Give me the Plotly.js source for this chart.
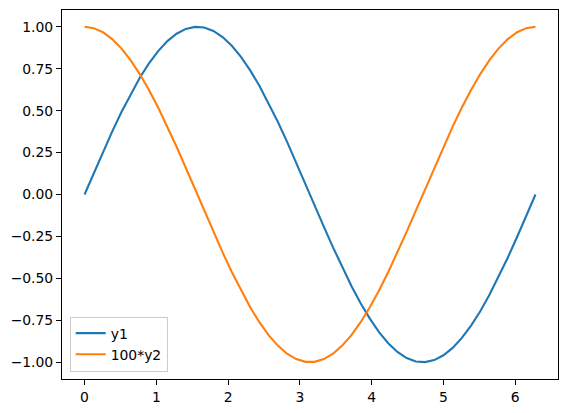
<!DOCTYPE html>
<html>
<head>
<meta charset="utf-8">
<script src="https://cdn.plot.ly/plotly-3.0.1.min.js"></script>
<style>html,body{margin:0;padding:0;background:#fff;}#chart{width:568px;height:413px;}</style>
</head>
<body>
<div id="chart"></div>
<script>
const xValues = [0, 0.1282, 0.2565, 0.3847, 0.5129, 0.6411, 0.7694, 0.8976, 1.0258, 1.1541,
  1.2823, 1.4105, 1.5387, 1.6670, 1.7952, 1.9234, 2.0517, 2.1799, 2.3081, 2.4363,
  2.5646, 2.6928, 2.8210, 2.9493, 3.0775, 3.2057, 3.3340, 3.4622, 3.5904, 3.7186,
  3.8469, 3.9751, 4.1033, 4.2315, 4.3598, 4.4880, 4.6162, 4.7445, 4.8727, 5.0009,
  5.1291, 5.2574, 5.3856, 5.5138, 5.6421, 5.7703, 5.8985, 6.0268, 6.1550, 6.2832];
const y1Values = [0, 0.1279, 0.2537, 0.3752, 0.4907, 0.5981, 0.6959, 0.7818, 0.8551, 0.9144,
  0.9587, 0.9872, 0.9995, 0.9954, 0.9749, 0.9385, 0.8866, 0.8203, 0.7402, 0.6482,
  0.5455, 0.4339, 0.3151, 0.1912, 0.0641, -0.0641, -0.1912, -0.3151, -0.4339, -0.5455,
  -0.6482, -0.7402, -0.8203, -0.8866, -0.9385, -0.9749, -0.9954, -0.9995, -0.9872, -0.9587,
  -0.9144, -0.8551, -0.7818, -0.6959, -0.5981, -0.4907, -0.3752, -0.2537, -0.1279, 0];
const y2Values = [1, 0.9918, 0.9673, 0.9269, 0.8713, 0.8014, 0.7181, 0.6235, 0.5184, 0.4048,
  0.2845, 0.1596, 0.0321, -0.0960, -0.2225, -0.3454, -0.4625, -0.5721, -0.6723, -0.7614,
  -0.8381, -0.9010, -0.9491, -0.9815, -0.9979, -0.9979, -0.9815, -0.9491, -0.9010, -0.8381,
  -0.7614, -0.6723, -0.5721, -0.4625, -0.3454, -0.2225, -0.0960, 0.0321, 0.1596, 0.2845,
  0.4048, 0.5184, 0.6235, 0.7181, 0.8014, 0.8713, 0.9269, 0.9673, 0.9918, 1];
const seriesNames = ["y1", "100*y2"];
const xTicks = [0, 1, 2, 3, 4, 5, 6];
const yTicks = [-1.00, -0.75, -0.50, -0.25, 0.00, 0.25, 0.50, 0.75, 1.00];

const font = {family: "DejaVu Sans, sans-serif", size: 13.9, color: "#000"};
const traces = [
  {x: xValues, y: y1Values, name: seriesNames[0], type: "scatter", mode: "lines",
   line: {color: "#1f77b4", width: 2.1}},
  {x: xValues, y: y2Values, name: seriesNames[1], type: "scatter", mode: "lines",
   line: {color: "#ff7f0e", width: 2.1}}
];
const axisCommon = {
  showgrid: false, zeroline: false, showline: true, mirror: true,
  linecolor: "#000", linewidth: 1, ticks: "outside", ticklen: 5, tickwidth: 1,
  tickcolor: "#000", tickfont: font
};
const layout = {
  width: 568, height: 413,
  margin: {l: 62, r: 10, t: 10, b: 34, pad: 0},
  paper_bgcolor: "#fff", plot_bgcolor: "#fff",
  font: font,
  xaxis: Object.assign({}, axisCommon, {range: [-0.314, 6.597], tickmode: "array",
    tickvals: xTicks, ticktext: xTicks.map(String)}),
  yaxis: Object.assign({}, axisCommon, {range: [-1.1, 1.1], tickmode: "array",
    tickvals: yTicks, ticktext: yTicks.map(v => v.toFixed(2).replace("-", "\u2212"))}),
  showlegend: true,
  legend: {x: 0.0155, y: 0.02, xanchor: "left", yanchor: "bottom",
    bgcolor: "rgba(255,255,255,0.8)", bordercolor: "#cccccc", borderwidth: 1,
    font: font, tracegroupgap: 0, itemwidth: 30}
};
Plotly.newPlot("chart", traces, layout, {displayModeBar: false, staticPlot: true});
</script>
</body>
</html>
